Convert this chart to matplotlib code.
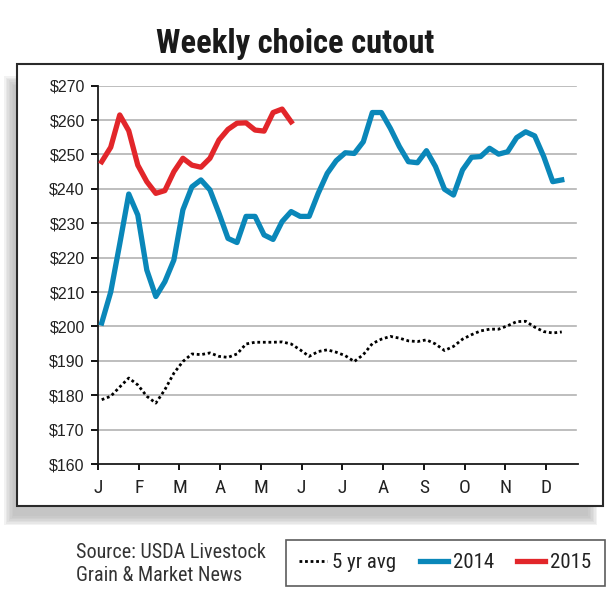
import numpy as np
import matplotlib
matplotlib.use("Agg")
import matplotlib.pyplot as plt
from matplotlib.patches import Rectangle

# weekly values
avg5 = [178.7, 179.7, 182.4, 185, 183, 179.7, 177.7, 181.6, 186.4, 189.8, 192, 191.8,
        192.3, 191.3, 191, 192, 194.9, 195.4, 195.4, 195.4, 195.5, 194.9, 193.2, 191.3,
        192.7, 193.2, 192.5, 191.5, 189.8, 191.8, 195, 196.3, 197.1, 196.6, 195.8, 195.6,
        196.1, 194.9, 193, 194.2, 196.3, 197.6, 198.7, 199.2, 199.2, 200.2, 201.4, 201.5,
        199.8, 198.5, 198.1, 198.4]
y2014 = [201, 210, 224, 238.5, 232.4, 216.4, 208.7, 213, 219.3, 233.9, 240.6, 242.6,
         239.7, 232.9, 225.6, 224.4, 232, 232, 226.6, 225.3, 230.5, 233.4, 232, 232,
         238.7, 244.5, 248.2, 250.5, 250.3, 253.7, 262.2, 262.2, 257.6, 252.3, 247.9, 247.6,
         251.1, 246.5, 239.9, 238.2, 245.5, 249.2, 249.4, 251.8, 250.1, 250.8, 254.9, 256.6,
         255.4, 249.4, 242.1, 242.6]
y2015 = [247.9, 252.1, 261.5, 256.9, 246.9, 242.1, 238.7, 239.5, 245, 248.9, 246.9, 246.3,
         248.9, 254.2, 257.3, 259.1, 259.2, 257.1, 256.8, 262.2, 263.2, 259.5]
months = ["J", "F", "M", "A", "M", "J", "J", "A", "S", "O", "N", "D"]
yticks = list(range(160, 271, 10))

# narrow fonts first, regular as fallback
narrow = ["Roboto Condensed", "Archivo Narrow", "Sofia Sans Condensed", "Liberation Sans", "DejaVu Sans"]

W, H = 610, 589
fig = plt.figure(figsize=(W / 100, H / 100), dpi=100)

def px_rect(x0, y0, x1, y1, **kw):
    # rectangle given in pixel coords from top-left
    return Rectangle((x0 / W, 1 - y1 / H), (x1 - x0) / W, (y1 - y0) / H,
                     transform=fig.transFigure, **kw)

# soft shadow behind the frame
for k in range(7):
    fig.add_artist(px_rect(4 + k * 1.5, 76 + k * 1.5, 597 - k * 1.5, 525 - k * 1.5,
                           facecolor="#b0b0b0", edgecolor="none", alpha=0.16, zorder=0))
fig.add_artist(px_rect(16.7, 64, 602.7, 505.7, facecolor="white", edgecolor="#2a2a2a",
                       linewidth=1.5, zorder=1))

ax = fig.add_axes([98 / W, 1 - 464 / H, 480 / W, (464 - 85.7) / H])
ax.set_facecolor("none")
ax.set_zorder(2)

x_avg = np.arange(len(avg5))
x14 = np.arange(len(y2014))
x15 = np.arange(len(y2015))

ax.plot(x_avg, avg5, color="black", lw=2.0, dashes=(1, 1), dash_capstyle="butt",
        label="5 yr avg", zorder=3)
ax.plot(x14, y2014, color="#0a87b9", lw=3.8, solid_joinstyle="round", label="2014", zorder=4)
ax.plot(x15, y2015, color="#e2262a", lw=3.8, solid_joinstyle="round", label="2015", zorder=5)

ax.set_ylim(160, 270)
ax.set_xlim(-0.41, 52.8)
ax.set_yticks(yticks)
ax.set_yticklabels(["$%d" % v for v in yticks])
ax.set_xticks(-0.41 + 4.515 * np.arange(12))
ax.set_xticklabels(months)

for v in yticks[1:]:
    ax.axhline(v, color="#b3b3b3", lw=1.2, zorder=1, xmax=0.996)

for s in ["top", "right"]:
    ax.spines[s].set_visible(False)
for s in ["left", "bottom"]:
    ax.spines[s].set_linewidth(1.3)
    ax.spines[s].set_color("#1a1a1a")

ax.tick_params(axis="y", direction="out", length=5, width=1.3, pad=4.5,
               labelsize=11.5, labelcolor="#222222")
ax.tick_params(axis="x", direction="out", length=4.5, width=1.3, pad=6,
               labelsize=14, labelcolor="#222222")
for t in ax.get_yticklabels():
    t.set_fontfamily(["Liberation Sans", "DejaVu Sans"])
for t in ax.get_xticklabels():
    t.set_fontfamily(narrow)

fig.text(295 / W, 1 - 52.5 / H, "Weekly choice cutout", ha="center", va="baseline",
         fontsize=23.5, fontweight="bold", color="#1a1a1a", family=narrow)

fig.text(76 / W, 1 - 558 / H, "Source: USDA Livestock", ha="left", va="baseline",
         fontsize=14.5, color="#333333", family=narrow)
fig.text(76 / W, 1 - 581 / H, "Grain & Market News", ha="left", va="baseline",
         fontsize=14.5, color="#333333", family=narrow)

leg = ax.legend(loc="center", bbox_to_anchor=(285.5 / W, 1 - 588 / H, 319.5 / W, 50 / H),
                bbox_transform=fig.transFigure, mode="expand", ncol=3, frameon=True,
                fancybox=False, edgecolor="#333333", handlelength=1.35, handletextpad=0.25,
                columnspacing=0.8, borderpad=0.65, borderaxespad=0,
                prop={"family": narrow, "size": 15})
leg.get_frame().set_linewidth(1.2)
for t in leg.get_texts():
    t.set_color("#222222")

fig.savefig("out.png", dpi=100)
